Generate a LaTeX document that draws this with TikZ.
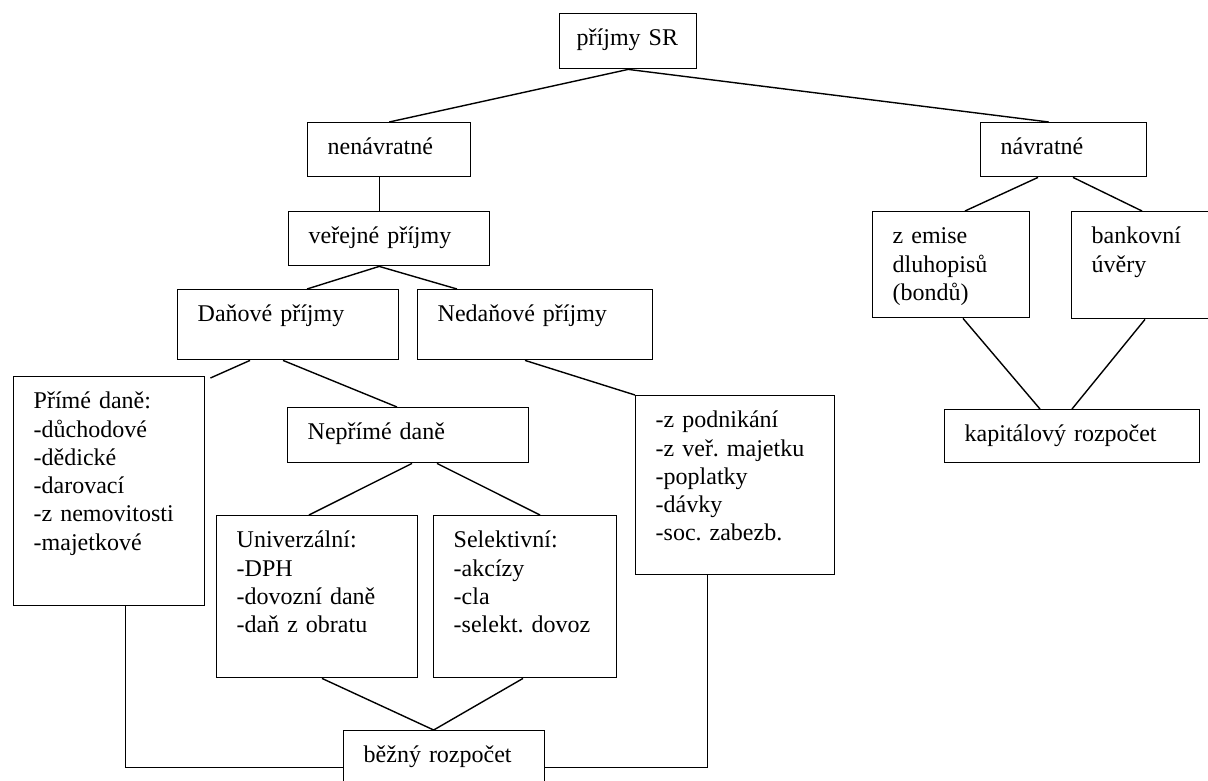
\documentclass[tikz,border=0pt]{standalone}
\usepackage{fontspec}
\setmainfont{Liberation Serif}
\usepackage{tikz}
\tikzset {
    box/.style={draw, line width=1.4pt, anchor=north west, align=left,
        inner xsep=20pt, inner ysep=14pt, text height=18pt,
        font=\fontsize{24}{28.3}\selectfont\frenchspacing},
    link/.style={line width=1.4pt}
}

\begin{document}
\begin{tikzpicture}[x=1pt, y=-1pt]
    \useasboundingbox (0,0) rectangle (1208,780);

    \node[box, inner xsep=17pt, text width=103pt, text depth=9pt] (sr) at (559,13) {příjmy SR};
    \node[box, text width=123pt, text depth=8pt] (nenavr) at (307,122) {nenávratné};
    \node[box, text width=126pt, text depth=8pt] (navr) at (980,122) {návratné};
    \node[box, text width=161pt, text depth=8pt] (verejne) at (288,211) {veřejné příjmy};
    \node[box, text width=181pt, text depth=24pt] (danove) at (177,289) {Daňové příjmy};
    \node[box, text width=195pt, text depth=24pt] (nedanove) at (417,289) {Nedaňové příjmy};
    \node[box, text width=151pt, text depth=183pt] (prime) at (13,376)
        {Přímé daně:\\-důchodové\\-dědické\\-darovací\\-z nemovitosti\\-majetkové};
    \node[box, text width=201pt, text depth=9pt] (neprime) at (287,407) {Nepřímé daně};
    \node[box, text width=159pt, text depth=133pt] (nedanlist) at (635,395)
        {-z podnikání\\-z veř. majetku\\-poplatky\\-dávky\\-soc. zabezb.};
    \node[box, text width=161pt, text depth=116pt] (univ) at (216,515)
        {Univerzální:\\-DPH\\-dovozní daně\\-daň z obratu};
    \node[box, text width=143pt, text depth=116pt] (selekt) at (433,515)
        {Selektivní:\\-akcízy\\-cla\\-selekt. dovoz};
    \node[box, text width=161pt, text depth=28pt] (bezny) at (343,730) {běžný rozpočet};
    \node[box, text width=117pt, text depth=60pt] (emise) at (872,211) {z emise\\dluhopisů\\(bondů)};
    \node[box, text width=110pt, text depth=61pt] (uvery) at (1071,211) {bankovní\\úvěry};
    \node[box, text width=215pt, text depth=7pt] (kapital) at (944,409) {kapitálový rozpočet};

    % levá větev
    \draw[link] (sr.south) -- (nenavr.north)
        (sr.south) -- ([xshift=-15pt]navr.north);
    \draw[link] ([xshift=-9.5pt]nenavr.south) -- ([xshift=-9.5pt]verejne.north);
    \draw[link] ([xshift=-10pt]verejne.south) -- ([xshift=130pt]danove.north west)
        ([xshift=-10pt]verejne.south) -- ([xshift=40pt]nedanove.north west);
    \draw[link] ([xshift=73pt]danove.south west) -- ([xshift=5pt,yshift=-2pt]prime.north east)
        ([xshift=106pt]danove.south west) -- ([xshift=110pt]neprime.north west);
    \draw[link] ([xshift=108pt]nedanove.south west) -- (nedanlist.north west);
    \draw[link] ([xshift=125pt]neprime.south west) -- ([xshift=93pt]univ.north west)
        ([xshift=150pt]neprime.south west) -- ([xshift=107pt]selekt.north west);
    \draw[link] ([xshift=106pt]univ.south west) -- ([xshift=-10.5pt]bezny.north)
        ([xshift=90pt]selekt.south west) -- ([xshift=-10.5pt]bezny.north);
    \draw[link] ([xshift=16.5pt]prime.south) |- (bezny.west);
    \draw[link] ([xshift=-27.5pt]nedanlist.south) |- (bezny.east);

    % pravá větev
    \draw[link] ([xshift=58pt]navr.south west) -- ([xshift=93pt]emise.north west)
        ([xshift=93pt]navr.south west) -- ([xshift=71pt]uvery.north west);
    \draw[link] ([xshift=91pt]emise.south west) -- ([xshift=96pt]kapital.north west)
        ([xshift=74pt]uvery.south west) -- ([xshift=128pt]kapital.north west);
\end{tikzpicture}
\end{document}
